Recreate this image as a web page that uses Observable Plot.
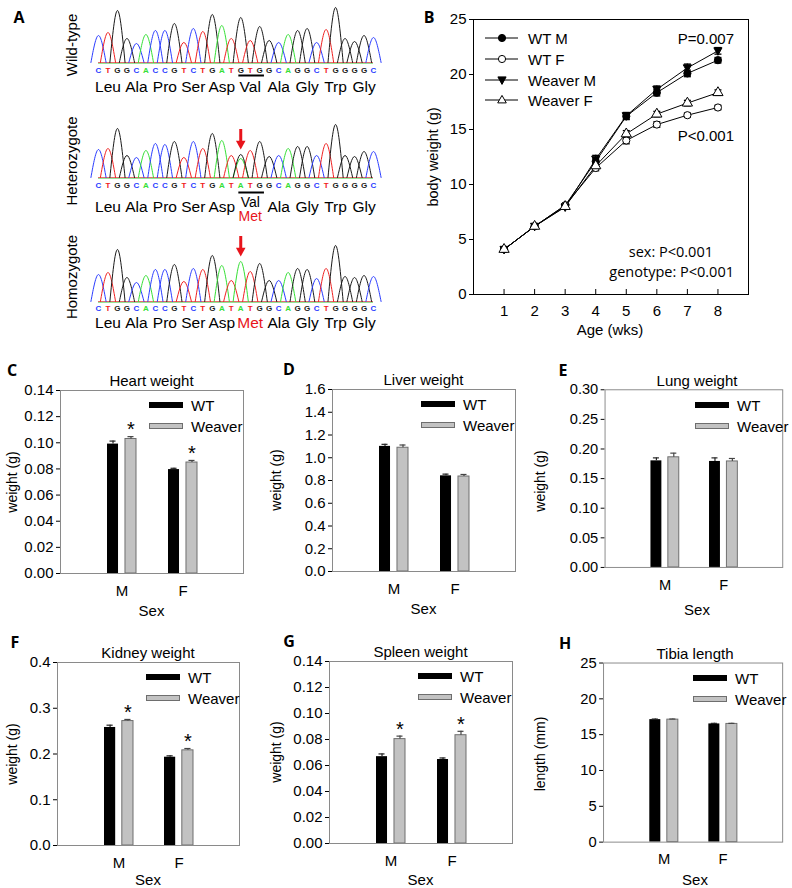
<!DOCTYPE html>
<html><head><meta charset="utf-8">
<script src="https://cdn.jsdelivr.net/npm/d3@7"></script>
<script src="https://cdn.jsdelivr.net/npm/@observablehq/plot@0.6"></script>
<style>
body{margin:0;background:#fff}
#root{position:relative;width:792px;height:888px;overflow:hidden;background:#fff;font-family:"Liberation Sans",Arial,sans-serif;color:#000}
.abs{position:absolute;white-space:nowrap;line-height:1}
svg{display:block}
</style></head><body><div id="root"></div>
<script>
// ---------------- Panel A data ----------------
const wtBases  = ["C","T","G","G","C","A","C","C","G","T","C","T","G","A","T","G","T","G","G","C","A","G","G","C","T","G","G","G","G","C"];
const mutBases = ["C","T","G","G","C","A","C","C","G","T","C","T","G","A","T","A","T","G","G","C","A","G","G","C","T","G","G","G","G","C"];
const wtPeaks  = [27,30,52,24,19,28,32,32,39,20,34,31,48,37,24,45,22,36,22,20,28,32,34,20,33,55,24,21,27,25];
const hetPeaks = [28,29,49,22,20,27,34,33,36,20,36,29,44,37,22,19,27,36,21,22,29,31,31,22,34,53,22,21,26,26];
const hetSecondary = [{pos:16, base:"G", h:23}];
const homPeaks = [27,29,52,24,19,26,32,32,37,20,33,32,46,36,21,40,30,38,21,21,29,33,32,23,33,56,25,24,26,25];
const aminoAcids = ["Leu","Ala","Pro","Ser","Asp","Val","Ala","Gly","Trp","Gly"];
const mutPos = 16, mutCodon = 5, mutAmino = "Met";
const traceNames = ["Wild-type","Heterozygote","Homozygote"];

// ---------------- Panel B data ----------------
const ages = [1,2,3,4,5,6,7,8];
const wtM     = [4.1, 6.2, 8.1, 12.1, 16.2, 18.35, 20.1, 21.3];
const wtF     = [4.1, 6.2, 8.1, 11.5, 14.0, 15.45, 16.3, 17.0];
const weaverM = [4.1, 6.2, 7.95, 12.3, 16.25, 18.65, 20.6, 22.15];
const weaverF = [4.1, 6.2, 8.0, 11.7, 14.6, 16.4, 17.4, 18.35];
const wtMSE     = [0.1,0.1,0.15,0.3,0.3,0.3,0.3,0.25];
const wtFSE     = [0.1,0.1,0.15,0.25,0.3,0.25,0.2,0.2];
const weaverMSE = [0.1,0.1,0.15,0.35,0.3,0.3,0.35,0.3];
const weaverFSE = [0.1,0.1,0.15,0.3,0.3,0.25,0.25,0.25];
const seriesNames = ["WT M","WT F","Weaver M","Weaver F"];
const bYTicks = [0,5,10,15,20,25];

// ---------------- Panels C-H data ----------------
const sexes = ["M","F"];
const genotypes = ["WT","Weaver"];
// order: WT M, Weaver M, WT F, Weaver F
const heartMean  = [0.0990, 0.1029, 0.0795, 0.0849];
const heartSE    = [0.0023, 0.0018, 0.0010, 0.0016];
const heartSig   = [false, true, false, true];
const liverMean  = [1.100, 1.088, 0.841, 0.835];
const liverSE    = [0.018, 0.024, 0.015, 0.018];
const liverSig   = [false, false, false, false];
const lungMean   = [0.180, 0.186, 0.179, 0.179];
const lungSE     = [0.005, 0.007, 0.006, 0.005];
const lungSig    = [false, false, false, false];
const kidneyMean = [0.258, 0.272, 0.193, 0.208];
const kidneySE   = [0.005, 0.0035, 0.003, 0.004];
const kidneySig  = [false, true, false, true];
const spleenMean = [0.0668, 0.0803, 0.0646, 0.0833];
const spleenSE   = [0.0021, 0.0023, 0.0012, 0.0030];
const spleenSig  = [false, true, false, true];
const tibiaMean  = [17.1, 17.1, 16.5, 16.5];
const tibiaSE    = [0.08, 0.08, 0.08, 0.08];
const tibiaSig   = [false, false, false, false];
const ticks014 = [0,0.02,0.04,0.06,0.08,0.10,0.12,0.14];
const ticks16  = [0,0.2,0.4,0.6,0.8,1.0,1.2,1.4,1.6];
const ticks030 = [0,0.05,0.10,0.15,0.20,0.25,0.30];
const ticks04  = [0,0.1,0.2,0.3,0.4];
const ticks25  = [0,5,10,15,20,25];

// ---------------- helpers ----------------
const root = document.getElementById("root");
const FONT = '"Liberation Sans", Arial, sans-serif';
function place(node, left, top){
  const d = document.createElement("div");
  d.style.cssText = `position:absolute;left:${left}px;top:${top}px`;
  d.appendChild(node); root.appendChild(d);
}
function txt(s, x, y, o={}){
  const d = document.createElement("div");
  d.className = "abs"; d.textContent = s;
  const ax = o.anchor==="start" ? "0%" : o.anchor==="end" ? "-100%" : "-50%";
  d.style.left = x+"px"; d.style.top = y+"px";
  d.style.fontSize = (o.size||15)+"px";
  if (o.weight) d.style.fontWeight = o.weight;
  if (o.color) d.style.color = o.color;
  if (o.family) d.style.fontFamily = o.family;
  d.style.transform = `translate(${ax},-50%)` + (o.rotate ? ` rotate(${o.rotate}deg)` : "");
  root.appendChild(d);
}
const LETTER = {size:16, weight:"700", family:'"Open Sans", sans-serif'};
const baseColors = {C:"#2a3cff", T:"#f02020", G:"#1a1a1a", A:"#35e035"};
const RED = "#e8141b";
const triDown = {draw(ctx, size){ const r = Math.sqrt(size/Math.PI);
  ctx.moveTo(0, r*1.3); ctx.lineTo(r*1.2, -r*0.9); ctx.lineTo(-r*1.2, -r*0.9); ctx.closePath(); }};
const capSym = {draw(ctx, size){ const r = Math.sqrt(size/Math.PI);
  ctx.moveTo(-r, 0); ctx.lineTo(r, 0); }};

// ---------------- Panel A ----------------
txt("A", 19, 17, LETTER);
const traceCfgs = [
  {bases: wtBases,  peaks: wtPeaks,  secondary: [],           baseline: 62,  letterDy: 8, aminoDy: 25, type: "wt",  labelY: 45},
  {bases: mutBases, peaks: hetPeaks, secondary: hetSecondary, baseline: 177, letterDy: 8, aminoDy: 30, type: "het", labelY: 161},
  {bases: mutBases, peaks: homPeaks, secondary: [],           baseline: 301, letterDy: 7, aminoDy: 22, type: "hom", labelY: 277}
];
const HW = 0.8;
traceCfgs.forEach((cfg, ti) => {
  const pts = [];
  cfg.bases.forEach((b, i) => {
    const x = i + 1, h = cfg.peaks[i];
    pts.push({k:"p"+i, b, x:x-HW, y:0}, {k:"p"+i, b, x, y:h}, {k:"p"+i, b, x:x+HW, y:0});
  });
  cfg.secondary.forEach((s, j) => {
    pts.push({k:"s"+j, b:s.base, x:s.pos-HW, y:0}, {k:"s"+j, b:s.base, x:s.pos, y:s.h}, {k:"s"+j, b:s.base, x:s.pos+HW, y:0});
  });
  const aa = aminoAcids.map((a, i) => ({a, x: i*3 + 2, i}));
  const marks = [
    Plot.ruleY([0], {stroke: "#e04848", strokeWidth: 1, strokeOpacity: 0.8}),
    Plot.ruleY([0], {stroke: "#50d050", strokeWidth: 1, strokeOpacity: 0.6, dy: 1}),
    Plot.line(pts, {x: "x", y: "y", z: "k", stroke: d => baseColors[d.b], curve: "monotone-x", strokeWidth: 1}),
    Plot.text(cfg.bases, {x: (d, i) => i + 1, y: 0, dy: cfg.letterDy, text: d => d, fill: d => baseColors[d], fontSize: 8, fontWeight: "bold"})
  ];
  const codon = [{start: mutPos, end: mutPos + 2}];
  const peakAt = Math.max(cfg.peaks[mutPos-1], ...cfg.secondary.filter(s => s.pos === mutPos).map(s => s.h));
  const arrow = [{pos: mutPos, tip: peakAt + 5}];
  if (cfg.type === "wt") {
    marks.push(Plot.text(aa, {x: "x", y: 0, dy: cfg.aminoDy, text: "a", fontSize: 15.5}));
    marks.push(Plot.ruleY(codon, {x1: d => d.start - 0.2, x2: d => d.end + 0.5, y: 0, dy: 13, strokeWidth: 2, stroke: "black"}));
  } else if (cfg.type === "het") {
    marks.push(Plot.text(aa.filter(d => d.i !== mutCodon), {x: "x", y: 0, dy: cfg.aminoDy, text: "a", fontSize: 15.5}));
    marks.push(Plot.text(aa.filter(d => d.i === mutCodon), {x: "x", y: 0, dy: 25, text: "a", fontSize: 14}));
    marks.push(Plot.text(aa.filter(d => d.i === mutCodon), {x: "x", y: 0, dy: 39, text: () => mutAmino, fill: RED, fontSize: 14}));
    marks.push(Plot.ruleY(codon, {x1: d => d.start - 0.2, x2: d => d.end + 0.5, y: 0, dy: 15, strokeWidth: 2, stroke: "black"}));
  } else {
    marks.push(Plot.text(aa.filter(d => d.i !== mutCodon), {x: "x", y: 0, dy: cfg.aminoDy, text: "a", fontSize: 15.5}));
    marks.push(Plot.text(aa.filter(d => d.i === mutCodon), {x: "x", y: 0, dy: cfg.aminoDy, text: () => mutAmino, fill: RED, fontSize: 15.5}));
  }
  if (cfg.type !== "wt") {
    marks.push(Plot.ruleX(arrow, {x: "pos", y1: d => d.tip + 8, y2: d => d.tip + 20, stroke: RED, strokeWidth: 3}));
    marks.push(Plot.dot(arrow, {x: "pos", y: d => d.tip + 5.2, symbol: triDown, r: 4, fill: RED, stroke: "none"}));
  }
  const p = Plot.plot({
    width: 400, height: 100, marginLeft: 98, marginRight: 27, marginTop: 0, marginBottom: 38,
    x: {domain: [1, 30], axis: null}, y: {domain: [0, 62], axis: null},
    color: {type: "identity"},
    style: {fontFamily: FONT, fontSize: "15px", background: "transparent", overflow: "visible", color: "black"},
    marks
  });
  place(p, 0, cfg.baseline - 62);
  txt(traceNames[ti], 71, cfg.labelY, {size: 15, rotate: -90});
});

// ---------------- Panel B ----------------
txt("B", 429, 17, LETTER);
const seriesVals = [wtM, wtF, weaverM, weaverF];
const seriesSE = [wtMSE, wtFSE, weaverMSE, weaverFSE];
const seriesStyle = [
  {symbol: "circle", fill: "black", r: 3.6},
  {symbol: "circle", fill: "white", r: 3.6},
  {symbol: triDown, fill: "black", r: 3.4},
  {symbol: "triangle", fill: "white", r: 3.8}
];
const bMarks = [Plot.frame({stroke: "black"}), Plot.tickX(ages, {x: d => d, insetTop: 270, stroke: "black"})];
const bRowsAll = seriesNames.map((n, si) => ages.map((a, i) => ({series: n, age: a, w: seriesVals[si][i], se: seriesSE[si][i]})));
bRowsAll.forEach(rows => bMarks.push(Plot.line(rows, {x: "age", y: "w", stroke: "black", strokeWidth: 1})));
bRowsAll.forEach(rows => {
  bMarks.push(Plot.ruleX(rows, {x: "age", y1: d => d.w - d.se, y2: d => d.w + d.se, stroke: "black", strokeWidth: 1.3}));
  bMarks.push(Plot.dot(rows, {x: "age", y: d => d.w + d.se, symbol: capSym, r: 3.5, stroke: "black", strokeWidth: 1.3}));
  bMarks.push(Plot.dot(rows, {x: "age", y: d => d.w - d.se, symbol: capSym, r: 3.5, stroke: "black", strokeWidth: 1.3}));
});
bRowsAll.forEach((rows, si) => {
  const s = seriesStyle[si];
  bMarks.push(Plot.dot(rows, {x: "age", y: "w", symbol: s.symbol, r: s.r, fill: s.fill, stroke: "black", strokeWidth: 1}));
});
const bPlot = Plot.plot({
  width: 392, height: 330, marginLeft: 73, marginRight: 44, marginTop: 19, marginBottom: 36,
  x: {domain: [0, 9], ticks: ages, tickSize: 0, tickPadding: 11, label: null, tickFormat: d => String(d)},
  y: {domain: [0, 25], ticks: bYTicks, tickSize: 4, tickPadding: 3, label: null, tickFormat: d => String(d)},
  style: {fontFamily: FONT, fontSize: "15px", background: "transparent", overflow: "visible", color: "black"},
  marks: bMarks
});
place(bPlot, 400, 0);
txt("body weight (g)", 433, 157, {size: 14.5, rotate: -90});
txt("Age (wks)", 610, 329, {size: 15});
txt("P=0.007", 734, 38, {size: 15, anchor: "end"});
txt("P<0.001", 734, 135, {size: 15, anchor: "end"});
txt("sex: P<0.001", 713, 252, {size: 14.5, anchor: "end", family: '"Open Sans", sans-serif'});
txt("genotype: P<0.001", 734, 272, {size: 14.5, anchor: "end", family: '"Open Sans", sans-serif'});
// legend for B
(function(){
  const ys = [38, 59, 80, 100];
  const ns = "http://www.w3.org/2000/svg";
  const svg = document.createElementNS(ns, "svg");
  svg.setAttribute("width", 60); svg.setAttribute("height", 120);
  let html = "";
  ys.forEach((y, i) => {
    html += `<line x1="5" x2="38" y1="${y}" y2="${y}" stroke="black" stroke-width="1"/>`;
    const cx = 22;
    if (i < 2) html += `<circle cx="${cx}" cy="${y}" r="3.6" fill="${i===0?'black':'white'}" stroke="black"/>`;
    else if (i === 2) html += `<path d="M${cx},${y+4.4}L${cx+4.1},${y-3.1}L${cx-4.1},${y-3.1}Z" fill="black" stroke="black"/>`;
    else html += `<path d="M${cx},${y-4.6}L${cx+4.3},${y+2.9}L${cx-4.3},${y+2.9}Z" fill="white" stroke="black"/>`;
  });
  svg.innerHTML = html;
  place(svg, 480, 0);
  seriesNames.forEach((n, i) => txt(n, 528, ys[i], {size: 15, anchor: "start"}));
})();

// ---------------- Panels C-H ----------------
function barPanel(cfg){
  const {L, R, T, B} = cfg.frame;
  const rows = [];
  sexes.forEach((s, si) => genotypes.forEach((g, gi) => {
    const k = si * 2 + gi;
    rows.push({sex: s, geno: g, mean: cfg.mean[k], se: cfg.se[k], sig: cfg.sig[k]});
  }));
  const wt = rows.filter(d => d.geno === "WT"), wv = rows.filter(d => d.geno === "Weaver");
  const ml = 60, mt = 30, mr = 10, mb = 40;
  const fw = R - L;
  const bw = fw / 3 * 0.475, barW = 11, ins = bw - barW, off = bw / 2 - barW / 2, capIns = (bw - 6) / 2;
  const hi = d => d.mean + d.se;
  const p = Plot.plot({
    width: fw + ml + mr, height: (B - T) + mt + mb,
    marginLeft: ml, marginRight: mr, marginTop: mt, marginBottom: mb,
    x: {domain: sexes, paddingInner: 0.525, paddingOuter: 0.7625, tickSize: 0, tickPadding: 12, label: null},
    y: {domain: cfg.domain, ticks: cfg.ticks, tickFormat: d3.format(cfg.fmt), tickSize: 4, tickPadding: 3, label: null},
    style: {fontFamily: FONT, fontSize: "15px", background: "transparent", overflow: "visible", color: "black"},
    marks: [
      Plot.barY(wt, {x: "sex", y: "mean", fill: "black", insetLeft: 0, insetRight: ins}),
      Plot.barY(wv, {x: "sex", y: "mean", fill: "#c2c2c2", stroke: "#6e6e6e", strokeWidth: 1, insetLeft: ins, insetRight: 0}),
      Plot.ruleX(wt, {x: "sex", y1: "mean", y2: hi, dx: -off, stroke: "#222", strokeWidth: 1.2}),
      Plot.ruleX(wv, {x: "sex", y1: "mean", y2: hi, dx: off, stroke: "#444", strokeWidth: 1.2}),
      Plot.tickY(wt, {x: "sex", y: hi, dx: -off, insetLeft: capIns, insetRight: capIns, stroke: "#222", strokeWidth: 1.2}),
      Plot.tickY(wv, {x: "sex", y: hi, dx: off, insetLeft: capIns, insetRight: capIns, stroke: "#444", strokeWidth: 1.2}),
      Plot.text(wv.filter(d => d.sig), {x: "sex", y: hi, dx: off, dy: -7, text: () => "*", fontSize: 20}),
      Plot.frame({stroke: "#8a8a8a"})
    ]
  });
  place(p, L - ml, T - mt);
  txt(cfg.title, (L + R) / 2, T - 10.5, {size: 15});
  txt(cfg.letter, L + cfg.letterDx, T - 20, LETTER);
  txt(cfg.ylabel, cfg.ylabelX, (T + B) / 2, {size: 14, rotate: -90});
  txt("Sex", (L + R) / 2, Math.min(B + 37, 879), {size: 15});
  // legend
  const sw1 = document.createElement("div");
  sw1.style.cssText = `position:absolute;left:${L+89}px;top:${T+12}px;width:34px;height:6px;background:#000`;
  const sw2 = document.createElement("div");
  sw2.style.cssText = `position:absolute;left:${L+89}px;top:${T+33}px;width:32px;height:4px;background:#c2c2c2;border:1px solid #6e6e6e`;
  root.appendChild(sw1); root.appendChild(sw2);
  txt("WT", L + 131, T + 15, {size: 15, anchor: "start"});
  txt("Weaver", L + 131, T + 36, {size: 15, anchor: "start"});
}
barPanel({frame: {L: 60, R: 243, T: 390, B: 573}, mean: heartMean, se: heartSE, sig: heartSig, domain: [0, 0.14], ticks: ticks014, fmt: ".2f", title: "Heart weight", letter: "C", letterDx: -48, ylabel: "weight (g)", ylabelX: 12});
barPanel({frame: {L: 332, R: 515, T: 389, B: 571}, mean: liverMean, se: liverSE, sig: liverSig, domain: [0, 1.6], ticks: ticks16, fmt: ".1f", title: "Liver weight", letter: "D", letterDx: -43, ylabel: "weight (g)", ylabelX: 276});
barPanel({frame: {L: 606, R: 788, T: 390, B: 572}, mean: lungMean, se: lungSE, sig: lungSig, domain: [0, 0.30], ticks: ticks030, fmt: ".2f", title: "Lung weight", letter: "E", letterDx: -43, ylabel: "weight (g)", ylabelX: 540});
barPanel({frame: {L: 57, R: 239, T: 662, B: 845}, mean: kidneyMean, se: kidneySE, sig: kidneySig, domain: [0, 0.4], ticks: ticks04, fmt: ".1f", title: "Kidney weight", letter: "F", letterDx: -42, ylabel: "weight (g)", ylabelX: 12});
barPanel({frame: {L: 329, R: 512, T: 661, B: 843}, mean: spleenMean, se: spleenSE, sig: spleenSig, domain: [0, 0.14], ticks: ticks014, fmt: ".2f", title: "Spleen weight", letter: "G", letterDx: -40, ylabel: "weight (g)", ylabelX: 276});
barPanel({frame: {L: 604, R: 786, T: 663, B: 845}, mean: tibiaMean, se: tibiaSE, sig: tibiaSig, domain: [0, 25], ticks: ticks25, fmt: "d", title: "Tibia length", letter: "H", letterDx: -39, ylabel: "length (mm)", ylabelX: 540});
</script></body></html>
